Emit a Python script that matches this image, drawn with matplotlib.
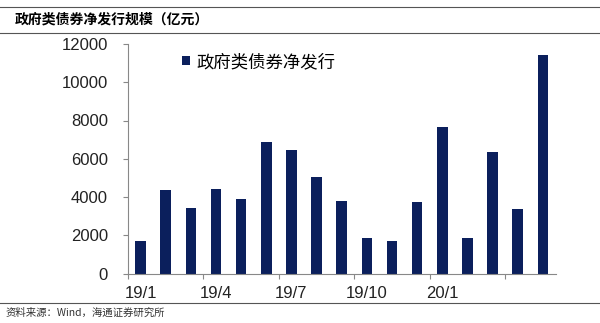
import matplotlib.pyplot as plt
from matplotlib.lines import Line2D

plt.rcParams['font.family'] = ['Liberation Sans', 'Noto Sans CJK SC', 'DejaVu Sans']

# 政府类债券月度净发行（亿元），2019/1 - 2020/5
months = ['19/1', '19/2', '19/3', '19/4', '19/5', '19/6', '19/7', '19/8', '19/9',
          '19/10', '19/11', '19/12', '20/1', '20/2', '20/3', '20/4', '20/5']
net_issue = [1720, 4370, 3410, 4420, 3870, 6880, 6440, 5060, 3800,
             1850, 1720, 3740, 7640, 1850, 6370, 3360, 11420]
shown_labels = ['19/1', '19/4', '19/7', '19/10', '20/1']
bar_color = '#0b1f5c'

W, H = 600, 323
fig = plt.figure(figsize=(W / 100, H / 100), dpi=100)
ax = fig.add_axes([128 / W, 1 - 273.5 / H, 427.5 / W, 229.5 / H])

x = list(range(len(months)))
bars = ax.bar(x, net_issue, width=0.42, color=bar_color)

ax.set_xlim(-0.5, len(months) - 0.5)
ax.set_ylim(0, 12000)
ax.set_yticks(range(0, 12001, 2000))
ax.tick_params(axis='y', labelsize=12, length=3.5, direction='out', colors='#888888',
               labelcolor='#222222', pad=11)

ax.set_xticks([i - 0.5 for i in range(0, len(months), 3)], minor=False)
ax.set_xticklabels([])
ax.tick_params(axis='x', length=3.5, direction='out', colors='#888888')
label_pos = [months.index(m) for m in shown_labels]
ax.set_xticks(label_pos, minor=True)
ax.set_xticklabels(shown_labels, minor=True)
ax.tick_params(axis='x', which='minor', length=0, labelsize=12, labelcolor='#222222', pad=9)

for s in ['top', 'right']:
    ax.spines[s].set_visible(False)
for s in ['left', 'bottom']:
    ax.spines[s].set_color('#888888')
    ax.spines[s].set_linewidth(0.8)

ax.legend([bars], ['政府类债券净发行'], loc='center left',
          bbox_to_anchor=(182 / W, 1 - 62 / H), bbox_transform=fig.transFigure,
          borderaxespad=0, borderpad=0, frameon=False,
          prop={'family': ['Noto Sans CJK SC'], 'size': 12.5},
          handlelength=0.45, handleheight=0.45, handletextpad=0.4)

# 标题、分隔线与资料来源
for y in [7, 33, 303]:
    fig.add_artist(Line2D([0, 1], [1 - y / H, 1 - y / H], color='#555555', lw=0.8))
fig.text(15 / W, 1 - 20 / H, '政府类债券净发行规模（亿元）', fontsize=10, fontweight='bold',
         family=['Noto Sans CJK SC'], va='center', ha='left')
fig.text(6 / W, 1 - 313 / H, '资料来源：Wind，海通证券研究所', fontsize=7.5,
         family=['Noto Sans CJK SC', 'DejaVu Sans'], va='center', ha='left', color='#333333')

fig.savefig('out.png', dpi=100)
